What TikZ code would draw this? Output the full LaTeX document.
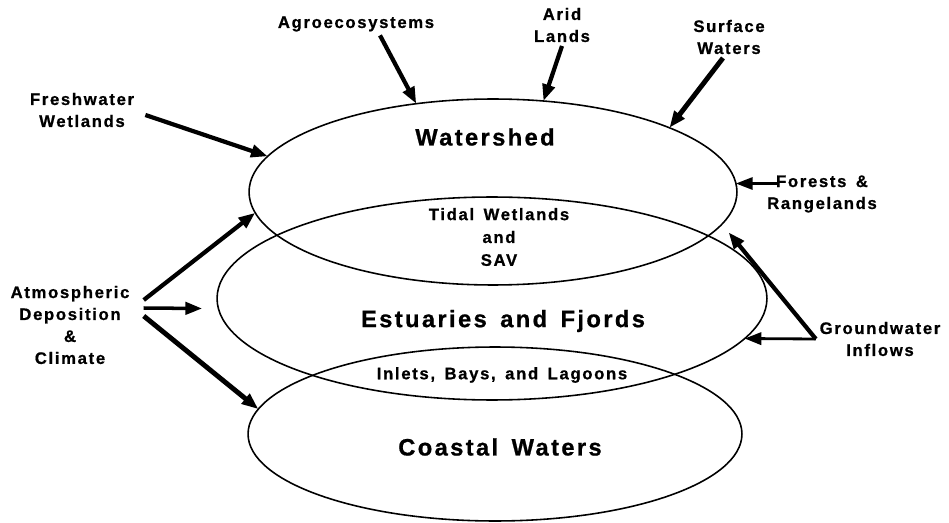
\documentclass[tikz,border=0pt]{standalone}
\usepackage{fontspec}
\newfontfamily\diafont[LetterSpace=10,WordSpace=1.5,
  BoldFeatures={FakeBold=0.8}]{Liberation Sans}
\usetikzlibrary{
  arrows.meta,
  shapes.geometric
}

\begin{document}
\begin{tikzpicture}[
  x=0.02cm, y=-0.02cm,
  >={Triangle[length=9.5pt,width=7pt]},
  zone/.style={
    ellipse, draw, line width=0.9pt, inner sep=0pt, outer sep=0pt
  },
  src/.style={
    font=\diafont\bfseries\fontsize{9.5}{12.5}\selectfont,
    align=center, inner sep=2pt
  },
  sub/.style={
    font=\diafont\bfseries\fontsize{9.5}{13}\selectfont, align=center
  },
  title/.style={font=\diafont\bfseries\fontsize{13.5}{16}\selectfont},
  flow/.style={->, line width=2.4pt},
  thinflow/.style={->, line width=1.2pt}
]
\useasboundingbox (0,0) rectangle (949,523);

\node[zone, minimum width=9.76cm, minimum height=3.72cm] (ws) at (493,192) {};
\node[zone, minimum width=11cm, minimum height=4.06cm] (est) at (492,298.5) {};
\node[zone, minimum width=9.88cm, minimum height=3.48cm] (coast) at (495,434) {};

\node[title] (wstitle) at (485,137) {Watershed};
\node[sub] (tidal) at (499,237) {Tidal Wetlands\\and\\SAV};
\node[title] (esttitle) at (503,321) {Estuaries and Fjords};
\node[sub] (inlets) at (502,375) {Inlets, Bays, and Lagoons};
\node[title] (coasttitle) at (500,447) {Coastal Waters};

\node[src] (agro) at (356,24) {Agroecosystems};
\node[src] (arid) at (562,25) {Arid\\Lands};
\node[src] (surf) at (729,37) {Surface\\Waters};
\node[src] (fresh) at (82,110) {Freshwater\\Wetlands};
\node[src] (forest) at (822,194) {Forests \&\\Rangelands};
\node[src] (atm) at (70,325) {Atmospheric\\Deposition\\\&\\Climate};
\node[src] (gw) at (880,339) {Groundwater\\Inflows};

\draw[flow] ([xshift=0.48cm]agro.south) -- (ws.131);
\draw[flow] (arid.south) -- (ws.61);
\draw[flow, line width=2.8pt] ([xshift=-0.12cm]surf.south) -- (ws.20);
\draw[flow] ([xshift=0.15cm,yshift=-0.1cm]fresh.east) -- (ws.171);
\draw[thinflow] ([xshift=0.3cm]forest.west |- ws.2) -- (ws.2);

\draw[flow, shorten >=6pt] (gw.west) -- (ws.-8);
\draw[flow, line width=1.6pt] (gw.west) -- (est.-9);

\draw[flow] ([xshift=0.21cm,yshift=0.5cm]atm.east) -- (ws.185);
\draw[flow, line width=2pt] ([xshift=0.21cm,yshift=0.34cm]atm.east)
  -- ([xshift=-0.3cm,yshift=-0.2cm]est.west);
\draw[flow, line width=2.8pt] ([xshift=0.21cm,yshift=0.18cm]atm.east) -- (coast.174);

\end{tikzpicture}
\end{document}
